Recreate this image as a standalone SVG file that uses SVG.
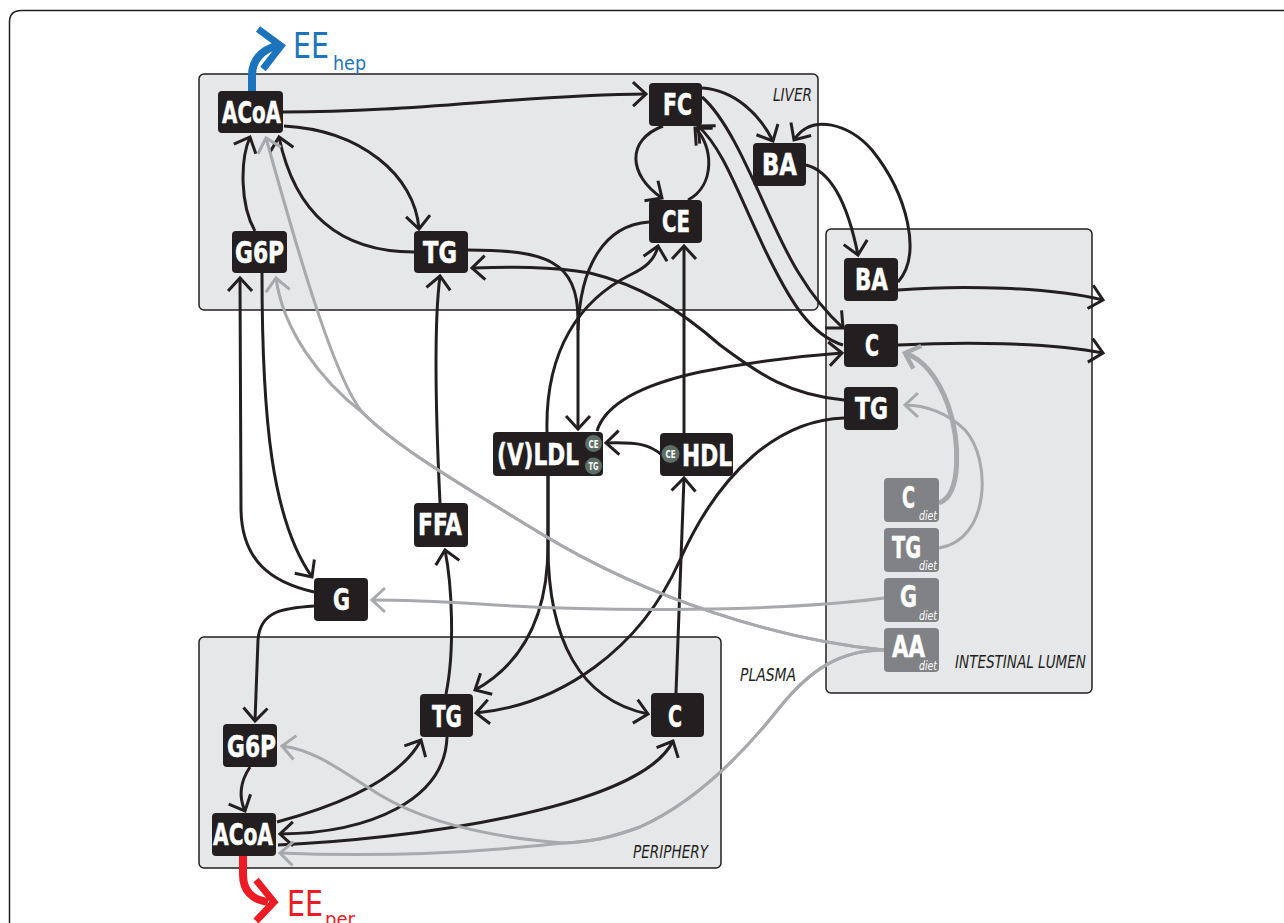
<svg xmlns="http://www.w3.org/2000/svg" width="1284" height="923" viewBox="0 0 1284 923">
<style>
.panel{fill:#e6e7e8;stroke:#231f20;stroke-width:1.5}
.nd{fill:#231f20}
.dt{fill:#808285}
.lb{fill:#fff;stroke:#fff;stroke-width:0.5;font-family:"Liberation Sans Narrow","DejaVu Sans Condensed","Liberation Sans",sans-serif;font-weight:bold;font-size:30px}
.sm{fill:#fff;font-family:"Liberation Sans Narrow","DejaVu Sans Condensed","Liberation Sans",sans-serif;font-style:italic;font-size:13px}
.ci{fill:#5d6e66}
.ct{fill:#fff;font-family:"Liberation Sans Narrow","DejaVu Sans Condensed","Liberation Sans",sans-serif;font-weight:bold;font-size:11px}
.pl{fill:#231f20;font-family:"Liberation Sans Narrow","DejaVu Sans Condensed","Liberation Sans",sans-serif;font-style:italic;font-size:17px}
.k{fill:none;stroke:#231f20;stroke-width:3;marker-end:url(#ak)}
.kn{fill:none;stroke:#231f20;stroke-width:3}
.g{fill:none;stroke:#a7a9ac;stroke-width:3;marker-end:url(#ag)}
.gt{fill:none;stroke:#a7a9ac;stroke-width:5;marker-end:url(#ag5)}
.ee{font-family:"Liberation Sans Narrow","DejaVu Sans Condensed","Liberation Sans",sans-serif}
</style>
<defs>
<marker id="ak" markerUnits="userSpaceOnUse" viewBox="-16 -16 22 32" markerWidth="22" markerHeight="32" refX="0" refY="0" orient="auto" overflow="visible">
<path d="M-13,-12 L0,0 L-13,12" fill="none" stroke="#231f20" stroke-width="3"/>
</marker>
<marker id="ag" markerUnits="userSpaceOnUse" viewBox="-16 -16 22 32" markerWidth="22" markerHeight="32" refX="0" refY="0" orient="auto" overflow="visible">
<path d="M-13,-12 L0,0 L-13,12" fill="none" stroke="#a7a9ac" stroke-width="3"/>
</marker>
<marker id="ag5" markerUnits="userSpaceOnUse" viewBox="-16 -16 22 32" markerWidth="22" markerHeight="32" refX="0" refY="0" orient="auto" overflow="visible">
<path d="M-13,-12 L0,0 L-13,12" fill="none" stroke="#a7a9ac" stroke-width="4.5"/>
</marker>
</defs>
<rect width="1284" height="923" fill="#fff"/>
<path d="M9.5,1000 L9.5,22 Q9.5,10.5 21.5,10.5 L1300,10.5" fill="none" stroke="#231f20" stroke-width="1.5"/>

<g id="panels">
<rect class="panel" x="199" y="74" width="619" height="236" rx="5"/>
<rect class="panel" x="826" y="229" width="266" height="464" rx="5"/>
<rect class="panel" x="199" y="637" width="522" height="231" rx="5"/>
<text class="pl" x="773" y="101" textLength="39" lengthAdjust="spacingAndGlyphs">LIVER</text>
<text class="pl" x="955" y="668" textLength="131" lengthAdjust="spacingAndGlyphs">INTESTINAL LUMEN</text>
<text class="pl" x="740" y="681" textLength="56" lengthAdjust="spacingAndGlyphs">PLASMA</text>
<text class="pl" x="633" y="858" textLength="75" lengthAdjust="spacingAndGlyphs">PERIPHERY</text>
</g>

<g id="connectors">
<path class="k" d="M283,112 C420,112 520,95 646,94"/>
<path class="k" d="M284,126 C360,130 415,175 419,229"/>
<path class="k" d="M414,252 C320,252 290,190 279,137"/>
<path class="k" d="M255,231 C240,205 240,160 250,137"/>
<path class="k" d="M663,126 C626,140 628,175 662,198"/>
<path class="k" d="M688,200 C716,185 713,145 695,128"/>
<path class="k" d="M702,88 C735,90 760,115 773,141"/>
<path class="k" d="M702,97 C740,130 770,230 800,275 C815,300 830,316 843,328"/>
<path class="k" d="M843,345 C810,335 790,300 770,260 C740,200 725,150 698,126"/>
<path class="k" d="M806,165 C835,172 850,215 858,255"/>
<path class="k" d="M898,282 C922,255 908,195 872,150 C850,125 812,112 794,140"/>
<path class="k" d="M468,250 C545,250 578,260 578,320 L578,429"/>
<path class="kn" d="M649,222 C605,225 580,265 578,330"/>
<path class="k" d="M547,432 C545,350 580,300 630,275 C645,268 655,260 658,246"/>
<path class="k" d="M684,433 L684,246"/>
<path class="k" d="M662,455 C650,445 640,442 606,443"/>
<path class="k" d="M597,431 C605,405 640,385 700,372 C750,362 800,356 842,353"/>
<path class="k" d="M844,400 C790,395 760,375 720,345 C680,310 640,285 590,273 C550,266 510,267 472,268"/>
<path class="k" d="M440,503 C436,420 433,330 440,276"/>
<path class="k" d="M446,694 C455,650 452,585 445,550"/>
<path class="k" d="M262,273 C262,420 272,520 312,577"/>
<path class="k" d="M314,592 C270,582 242,560 241,510 L240,278"/>
<path class="k" d="M314,606 C285,608 260,610 258,640 L255,721"/>
<path class="k" d="M250,767 C238,785 240,800 245,811"/>
<path class="k" d="M277,822 C340,805 400,780 421,740"/>
<path class="k" d="M447,737 C445,800 370,833 280,834"/>
<path class="k" d="M278,845 C400,840 640,810 673,741"/>
<path class="k" d="M548,476 L548,545 C548,620 520,665 475,690"/>
<path class="k" d="M548,476 L548,545 C548,640 580,700 648,714"/>
<path class="k" d="M844,418 C780,420 720,470 680,560 C640,650 560,705 476,713"/>
<path class="k" d="M676,693 L684,478"/>
<path class="k" d="M898,290 C960,285 1050,287 1103,300"/>
<path class="k" d="M898,345 C960,342 1050,342 1103,353"/>
<path class="g" d="M884,650 C780,640 650,600 540,533 C470,490 400,450 363,413 C335,380 300,260 266,138"/>
<path class="g" d="M884,650 C780,640 650,600 540,533 C470,490 400,450 363,413 C320,380 283,330 276,278"/>
<path class="g" d="M884,650 C840,650 810,670 780,707 C750,745 700,800 640,827 C610,838 590,842 563,843 C500,850 400,858 280,853"/>
<path class="g" d="M884,650 C840,650 810,670 780,707 C750,745 700,800 640,827 C610,838 590,842 563,843 C500,838 430,825 380,795 C340,770 315,750 282,746"/>
<path class="g" d="M884,598 C780,612 600,612 480,604 C430,601 400,600 372,600"/>
<path class="gt" d="M939,503 C962,495 960,440 948,405 C938,378 925,360 905,353"/>
<path class="g" d="M939,548 C990,540 992,460 965,430 C948,413 925,405 905,405"/>
<path d="M252,91 L252,75 C252,60 262,50 276,46" fill="none" stroke="#1c75bc" stroke-width="8"/>
<path d="M258,29 L281,46 L263,69" fill="none" stroke="#1c75bc" stroke-width="7"/>
<path d="M243,856 L243,875 C243,890 252,900 268,902" fill="none" stroke="#ed1c24" stroke-width="8"/>
<path d="M256,880 L274,902 L256,921" fill="none" stroke="#ed1c24" stroke-width="7"/>
</g>

<g id="ee-hep">
<text class="ee" x="293" y="58" fill="#1c75bc" font-size="35" textLength="36" lengthAdjust="spacingAndGlyphs">EE</text>
<text class="ee" x="333" y="70" fill="#1c75bc" font-size="20" textLength="33" lengthAdjust="spacingAndGlyphs">hep</text>
</g>
<g id="ee-per">
<text class="ee" x="287" y="916" fill="#ed1c24" font-size="35" textLength="36" lengthAdjust="spacingAndGlyphs">EE</text>
<text class="ee" x="325" y="926" fill="#ed1c24" font-size="20" textLength="30" lengthAdjust="spacingAndGlyphs">per</text>
</g>

<g id="liver-acoa"><rect class="nd" x="218" y="91" width="65" height="42" rx="4"/><text class="lb" x="222" y="123" textLength="59" lengthAdjust="spacingAndGlyphs">ACoA</text></g>
<g id="liver-g6p"><rect class="nd" x="232" y="231" width="55" height="42" rx="4"/><text class="lb" x="235" y="263" textLength="49" lengthAdjust="spacingAndGlyphs">G6P</text></g>
<g id="liver-tg"><rect class="nd" x="414" y="231" width="54" height="42" rx="4"/><text class="lb" x="423" y="263" textLength="34" lengthAdjust="spacingAndGlyphs">TG</text></g>
<g id="liver-fc"><rect class="nd" x="649" y="83" width="53" height="43" rx="4"/><text class="lb" x="663" y="115" textLength="29" lengthAdjust="spacingAndGlyphs">FC</text></g>
<g id="liver-ce"><rect class="nd" x="649" y="200" width="53" height="43" rx="4"/><text class="lb" x="662" y="232" textLength="28" lengthAdjust="spacingAndGlyphs">CE</text></g>
<g id="liver-ba"><rect class="nd" x="753" y="143" width="53" height="43" rx="4"/><text class="lb" x="762" y="175" textLength="35" lengthAdjust="spacingAndGlyphs">BA</text></g>

<g id="lumen-ba"><rect class="nd" x="844" y="258" width="54" height="43" rx="4"/><text class="lb" x="855" y="290" textLength="33" lengthAdjust="spacingAndGlyphs">BA</text></g>
<g id="lumen-c"><rect class="nd" x="844" y="324" width="54" height="43" rx="4"/><text class="lb" x="865" y="356" textLength="14" lengthAdjust="spacingAndGlyphs">C</text></g>
<g id="lumen-tg"><rect class="nd" x="844" y="387" width="54" height="43" rx="4"/><text class="lb" x="855" y="419" textLength="33" lengthAdjust="spacingAndGlyphs">TG</text></g>
<g id="diet-c"><rect class="dt" x="884" y="478" width="55" height="44" rx="4"/><text class="lb" x="902" y="508" textLength="13" lengthAdjust="spacingAndGlyphs">C</text><text class="sm" x="919" y="520" textLength="18" lengthAdjust="spacingAndGlyphs">diet</text></g>
<g id="diet-tg"><rect class="dt" x="884" y="528" width="55" height="44" rx="4"/><text class="lb" x="892" y="558" textLength="29" lengthAdjust="spacingAndGlyphs">TG</text><text class="sm" x="919" y="570" textLength="18" lengthAdjust="spacingAndGlyphs">diet</text></g>
<g id="diet-g"><rect class="dt" x="884" y="578" width="55" height="44" rx="4"/><text class="lb" x="900" y="607" textLength="17" lengthAdjust="spacingAndGlyphs">G</text><text class="sm" x="919" y="620" textLength="18" lengthAdjust="spacingAndGlyphs">diet</text></g>
<g id="diet-aa"><rect class="dt" x="884" y="628" width="55" height="44" rx="4"/><text class="lb" x="892" y="657" textLength="33" lengthAdjust="spacingAndGlyphs">AA</text><text class="sm" x="919" y="670" textLength="18" lengthAdjust="spacingAndGlyphs">diet</text></g>

<g id="plasma-vldl"><rect class="nd" x="493" y="432" width="110" height="44" rx="4"/><text class="lb" x="497" y="465" textLength="82" lengthAdjust="spacingAndGlyphs">(V)LDL</text>
<circle class="ci" cx="593.5" cy="443.5" r="8.5"/><text class="ct" x="588.5" y="447.5" textLength="10" lengthAdjust="spacingAndGlyphs">CE</text>
<circle class="ci" cx="593.5" cy="466" r="8.5"/><text class="ct" x="588.5" y="470" textLength="10" lengthAdjust="spacingAndGlyphs">TG</text></g>
<g id="plasma-hdl"><rect class="nd" x="660" y="433" width="73" height="43" rx="4"/><circle class="ci" cx="670.5" cy="454" r="9"/><text class="ct" x="665.5" y="458" textLength="10" lengthAdjust="spacingAndGlyphs">CE</text><text class="lb" x="682" y="466" textLength="50" lengthAdjust="spacingAndGlyphs">HDL</text></g>
<g id="plasma-ffa"><rect class="nd" x="414" y="503" width="54" height="44" rx="4"/><text class="lb" x="418" y="535" textLength="44" lengthAdjust="spacingAndGlyphs">FFA</text></g>
<g id="plasma-g"><rect class="nd" x="314" y="578" width="54" height="43" rx="4"/><text class="lb" x="333" y="610" textLength="17" lengthAdjust="spacingAndGlyphs">G</text></g>

<g id="per-g6p"><rect class="nd" x="223" y="724" width="54" height="43" rx="4"/><text class="lb" x="227" y="757" textLength="49" lengthAdjust="spacingAndGlyphs">G6P</text></g>
<g id="per-acoa"><rect class="nd" x="212" y="813" width="64" height="43" rx="4"/><text class="lb" x="213" y="845" textLength="60" lengthAdjust="spacingAndGlyphs">ACoA</text></g>
<g id="per-tg"><rect class="nd" x="420" y="694" width="53" height="43" rx="4"/><text class="lb" x="432" y="727" textLength="30" lengthAdjust="spacingAndGlyphs">TG</text></g>
<g id="per-c"><rect class="nd" x="651" y="693" width="53" height="44" rx="4"/><text class="lb" x="668" y="727" textLength="14" lengthAdjust="spacingAndGlyphs">C</text></g>
</svg>
